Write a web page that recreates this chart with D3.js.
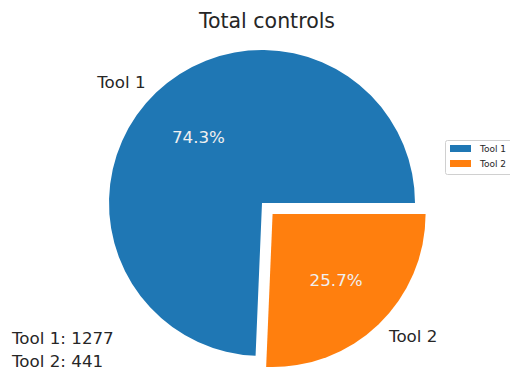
<!DOCTYPE html>
<html>
<head>
<meta charset="utf-8">
<script src="https://cdn.jsdelivr.net/npm/d3@7"></script>
<style>
  html, body { margin: 0; padding: 0; background: #fff; }
  svg { display: block; font-family: "DejaVu Sans", sans-serif; }
</style>
</head>
<body>
<svg id="chart" width="510" height="371"></svg>
<script>
// Data
const categories = ["Tool 1", "Tool 2"];
const counts = [1277, 441];
const colors = ["#1f77b4", "#ff7f0e"];
const explode = [0, 0.1];
const title = "Total controls";

const W = 510, H = 371;
const cx = 262, cy = 203, r = 153;

const svg = d3.select("#chart");

// Counter-clockwise from 3 o'clock
const pie = d3.pie().sort(null)
  .startAngle(Math.PI / 2)
  .endAngle(Math.PI / 2 - 2 * Math.PI);
const arcs = pie(counts);
const total = d3.sum(counts);

const arc = d3.arc().innerRadius(0).outerRadius(r);
const color = d3.scaleOrdinal().domain(categories).range(colors);

const pos = (a, d) => [Math.sin(a) * d, -Math.cos(a) * d];

const g = svg.append("g").attr("transform", `translate(${cx},${cy})`);

const slices = g.selectAll("g.slice").data(arcs).join("g")
  .attr("class", "slice")
  .attr("transform", (d, i) => {
    const mid = (d.startAngle + d.endAngle) / 2;
    const [dx, dy] = pos(mid, explode[i] * r);
    return `translate(${dx},${dy})`;
  });

slices.append("path")
  .attr("d", arc)
  .attr("fill", (d, i) => color(categories[i]));

// Category labels outside the wedges
slices.append("text")
  .each(function (d, i) {
    const mid = (d.startAngle + d.endAngle) / 2;
    const [x, y] = pos(mid, 1.1 * r);
    d3.select(this)
      .attr("x", x).attr("y", y)
      .attr("text-anchor", x < 0 ? "end" : "start")
      .attr("dominant-baseline", "central");
  })
  .attr("font-size", 16.7)
  .attr("fill", "#262626")
  .text((d, i) => categories[i]);

// Percentages inside the wedges
slices.append("text")
  .each(function (d) {
    const mid = (d.startAngle + d.endAngle) / 2;
    const [x, y] = pos(mid, 0.6 * r);
    d3.select(this).attr("x", x).attr("y", y);
  })
  .attr("text-anchor", "middle")
  .attr("dominant-baseline", "central")
  .attr("font-size", 16.7)
  .attr("fill", "#f0f0f0")
  .text(d => (d.value / total * 100).toFixed(1) + "%");

// Title
svg.append("text")
  .attr("x", 267).attr("y", 21)
  .attr("text-anchor", "middle")
  .attr("dominant-baseline", "central")
  .attr("font-size", 20.5)
  .attr("fill", "#262626")
  .text(title);

// Totals in the lower-left corner
const totals = svg.append("g");
categories.forEach((c, i) => {
  totals.append("text")
    .attr("x", 12).attr("y", 338 + i * 23)
    .attr("dominant-baseline", "central")
    .attr("font-size", 16.7)
    .attr("fill", "#262626")
    .text(`${c}: ${counts[i]}`);
});

// Legend
const lg = svg.append("g").attr("transform", "translate(445,140)");
lg.append("rect")
  .attr("x", 0.5).attr("y", 0.5)
  .attr("width", 80).attr("height", 34)
  .attr("rx", 2)
  .attr("fill", "#fff")
  .attr("stroke", "#d0d0d0");
categories.forEach((c, i) => {
  lg.append("rect")
    .attr("x", 5).attr("y", 5 + i * 15)
    .attr("width", 21).attr("height", 7)
    .attr("fill", color(c));
  lg.append("text")
    .attr("x", 35).attr("y", 8.5 + i * 15)
    .attr("dominant-baseline", "central")
    .attr("font-size", 9)
    .attr("fill", "#262626")
    .text(c);
});
</script>
</body>
</html>
